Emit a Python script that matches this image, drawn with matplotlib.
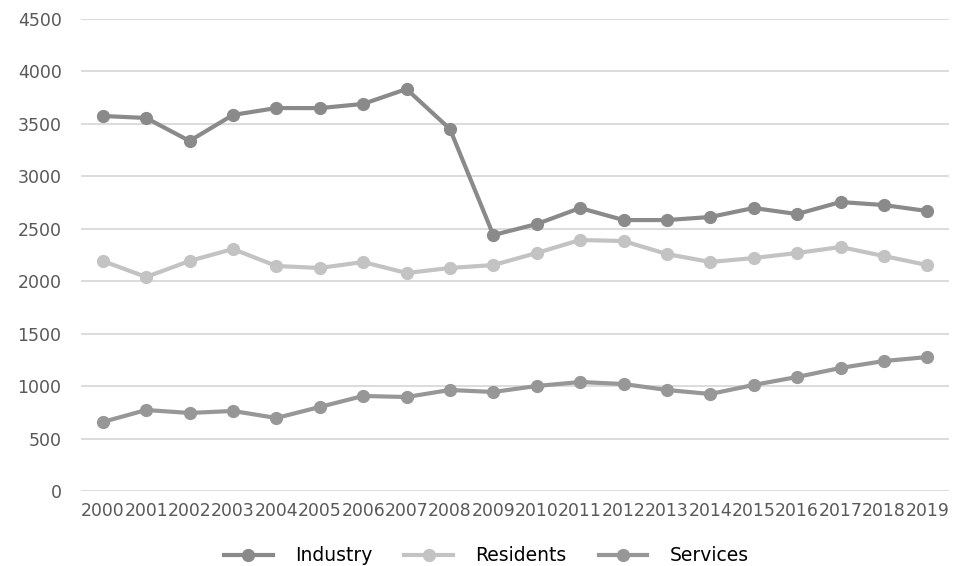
import matplotlib
matplotlib.use("Agg")
import matplotlib.pyplot as plt

years = [str(y) for y in range(2000, 2020)]
industry = [3575, 3556, 3337, 3585, 3651, 3650, 3690, 3832, 3451, 2440,
            2545, 2698, 2583, 2583, 2612, 2698, 2640, 2755, 2726, 2669]
residents = [2193, 2040, 2193, 2307, 2145, 2126, 2183, 2078, 2126, 2154,
             2269, 2393, 2383, 2259, 2183, 2221, 2269, 2326, 2240, 2154]
services = [658, 772, 744, 763, 696, 801, 906, 896, 963, 944,
            1001, 1039, 1020, 963, 925, 1011, 1087, 1173, 1239, 1277]

fig = plt.figure(figsize=(9.58, 5.66), dpi=100)
ax = fig.add_axes([0.0846, 0.1325, 0.906, 0.834])

x = range(len(years))
style = dict(linewidth=3.0, marker="o", markersize=8.5)
ax.plot(x, industry, color="#8a8a8a", label="Industry", **style)
ax.plot(x, residents, color="#c3c3c3", label="Residents", **style)
ax.plot(x, services, color="#979797", label="Services", **style)

ax.set_xlim(-0.5, len(years) - 0.5)
ax.set_ylim(0, 4500)
ax.set_yticks(range(0, 4501, 500))
ax.set_xticks(list(x))
ax.set_xticklabels(years)
ax.tick_params(length=0, labelsize=12.5, labelcolor="#595959", pad=8)
ax.tick_params(axis="x", labelsize=12.4)
ax.tick_params(axis="y", pad=14)
ax.grid(axis="y", color="#d9d9d9", linewidth=1.3)
ax.set_axisbelow(True)
for s in ax.spines.values():
    s.set_visible(False)

ax.legend(loc="center", bbox_to_anchor=(0.467, -0.137), ncol=3, frameon=False,
          fontsize=13.5, handlelength=2.6, handletextpad=1.2, columnspacing=1.7)

fig.savefig("out.png", dpi=100)
